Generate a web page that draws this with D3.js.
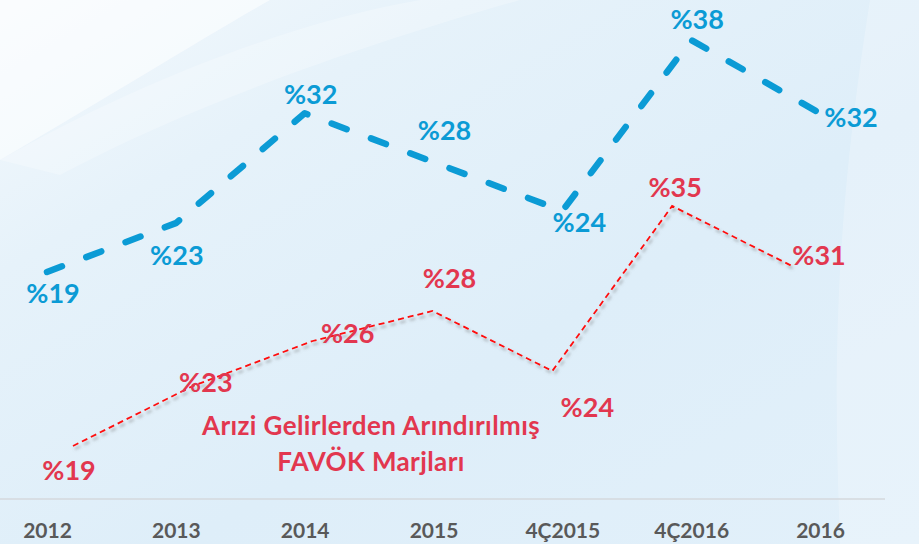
<!DOCTYPE html>
<html>
<head>
<meta charset="utf-8">
<script src="https://cdn.jsdelivr.net/npm/d3@7"></script>
<style>
  html, body { margin: 0; padding: 0; }
  body { width: 919px; height: 544px; overflow: hidden; }
  text { font-family: Lato, "Open Sans", sans-serif; font-weight: bold; }
</style>
</head>
<body>
<div id="chart"></div>
<script>
// categories and values
var categories = ["2012", "2013", "2014", "2015", "4Ç2015", "4Ç2016", "2016"];
var favokMargin = [19, 23, 32, 28, 24, 38, 32];      // blue dashed line
var adjustedMargin = [19, 23, 26, 28, 24, 35, 31];   // red dotted line
var redTitle = ["Arızi Gelirlerden Arındırılmış", "FAVÖK Marjları"];

// label nudges (pixels) relative to each point
var blueLabelDx = [6, 1, 6, 11, 17, 6, 31];
var blueLabelDy = [31, 42, -9, -22, 21, -11, 14];
var redLabelDx = [-4, 13, 35, 17, 35, 3, 27];
var redLabelDy = [34, 6, 2, -23, 46, -9, -1];

function init() {
    var w = 919;
    var h = 544;
    var blue = "#0b9bd5";
    var red = "#e2374f";

    var svg = d3.select("#chart")
        .append("svg")
        .attr("width", w)
        .attr("height", h);

    var defs = svg.append("defs");

    var bg = defs.append("linearGradient")
        .attr("id", "bg")
        .attr("x1", 0).attr("y1", 0)
        .attr("x2", 1).attr("y2", 1);
    bg.append("stop").attr("offset", "0%").attr("stop-color", "#f4f9fd");
    bg.append("stop").attr("offset", "25%").attr("stop-color", "#e6f2fa");
    bg.append("stop").attr("offset", "60%").attr("stop-color", "#deeef9");
    bg.append("stop").attr("offset", "100%").attr("stop-color", "#e2f0fa");

    var shadow = defs.append("filter")
        .attr("id", "shadow")
        .attr("x", "-10%").attr("y", "-10%")
        .attr("width", "120%").attr("height", "130%");
    shadow.append("feDropShadow")
        .attr("dx", 2).attr("dy", 3)
        .attr("stdDeviation", 1.5)
        .attr("flood-color", "#6f6f6f")
        .attr("flood-opacity", 0.55);

    // background and soft swooshes
    svg.append("rect")
        .attr("width", w)
        .attr("height", h)
        .attr("fill", "url(#bg)");

    svg.append("path")
        .attr("d", "M0,0 L270,0 C200,40 120,90 0,160 Z")
        .attr("fill", "#ffffff")
        .attr("opacity", 0.55);
    svg.append("path")
        .attr("d", "M0,160 C140,80 300,20 420,0 L520,0 C380,40 200,100 60,175 Z")
        .attr("fill", "#ffffff")
        .attr("opacity", 0.25);
    svg.append("path")
        .attr("d", "M870,0 L919,0 L919,544 L840,544 C835,400 830,250 870,0 Z")
        .attr("fill", "#ffffff")
        .attr("opacity", 0.22);

    // scales
    var xBlue = d3.scalePoint()
        .domain(categories)
        .range([47, 820]);
    var yBlue = d3.scaleLinear()
        .domain([19, 38])
        .range([272, 40]);

    var xRed = d3.scalePoint()
        .domain(categories)
        .range([73, 792]);
    var yRed = d3.scaleLinear()
        .domain([19, 35])
        .range([446, 206]);

    // baseline
    svg.append("line")
        .attr("x1", 0).attr("x2", 885)
        .attr("y1", 499).attr("y2", 499)
        .attr("stroke", "#d4d8dc")
        .attr("stroke-width", 1.5);

    // category axis
    var axis = svg.append("g")
        .attr("transform", "translate(0,520)")
        .call(d3.axisBottom(xBlue).tickSize(0).tickPadding(0));
    axis.select(".domain").remove();
    axis.selectAll("text")
        .attr("dy", "0.86em")
        .attr("fill", "#595959")
        .style("font-family", "Lato, sans-serif")
        .style("font-weight", "bold")
        .style("font-size", "21px");

    // blue dashed line
    var blueLine = d3.line()
        .x((d, i) => xBlue(categories[i]))
        .y(d => yBlue(d));

    svg.append("path")
        .datum(favokMargin)
        .attr("d", blueLine)
        .attr("fill", "none")
        .attr("stroke", blue)
        .attr("stroke-width", 6.5)
        .attr("stroke-linecap", "round")
        .attr("stroke-linejoin", "round")
        .attr("stroke-dasharray", "16,26");

    // red dotted line with shadow
    var redLine = d3.line()
        .x((d, i) => xRed(categories[i]))
        .y(d => yRed(d));

    svg.append("path")
        .datum(adjustedMargin)
        .attr("d", redLine)
        .attr("fill", "none")
        .attr("stroke", "#ff0a0a")
        .attr("stroke-width", 1.8)
        .attr("stroke-dasharray", "6,4")
        .attr("filter", "url(#shadow)");

    // value labels
    svg.selectAll(".blue-label")
        .data(favokMargin)
        .enter()
        .append("text")
        .attr("class", "blue-label")
        .attr("x", (d, i) => xBlue(categories[i]) + blueLabelDx[i])
        .attr("y", (d, i) => yBlue(d) + blueLabelDy[i])
        .attr("text-anchor", "middle")
        .attr("fill", blue)
        .style("font-size", "27px")
        .text(d => "%" + d);

    svg.selectAll(".red-label")
        .data(adjustedMargin)
        .enter()
        .append("text")
        .attr("class", "red-label")
        .attr("x", (d, i) => xRed(categories[i]) + redLabelDx[i])
        .attr("y", (d, i) => yRed(d) + redLabelDy[i])
        .attr("text-anchor", "middle")
        .attr("fill", red)
        .style("font-size", "27px")
        .text(d => "%" + d);

    // series title
    svg.selectAll(".red-title")
        .data(redTitle)
        .enter()
        .append("text")
        .attr("class", "red-title")
        .attr("x", 371)
        .attr("y", (d, i) => 435 + i * 36)
        .attr("text-anchor", "middle")
        .attr("fill", red)
        .style("font-size", "26px")
        .style("letter-spacing", "0.4px")
        .text(d => d);
}

window.onload = init;
</script>
</body>
</html>
